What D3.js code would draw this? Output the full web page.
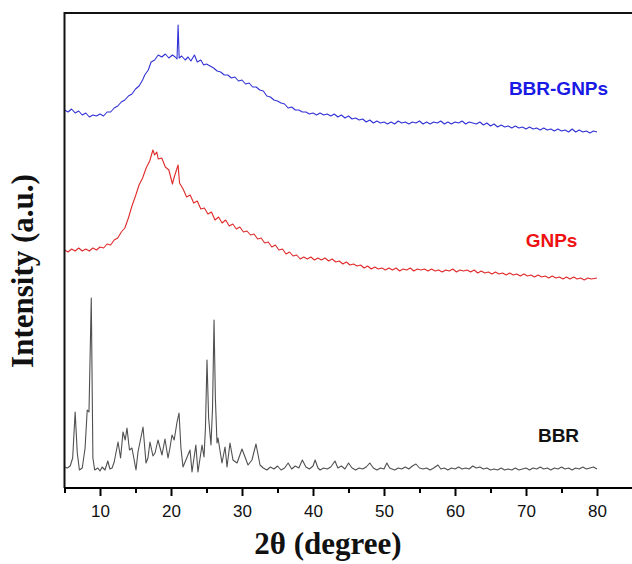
<!DOCTYPE html>
<html>
<head>
<meta charset="utf-8">
<style>
  body { margin: 0; background: #fff; }
</style>
</head>
<body>
<svg width="632" height="564"></svg>
<script src="https://d3js.org/d3.v7.min.js"></script>
<script>
  var svg = d3.select("svg"),
      margin = {top: 13, right: 0, bottom: 76, left: 64.5},
      width = 568,
      height = +svg.attr("height") - margin.top - margin.bottom,
      g = svg.append("g").attr("transform", "translate(" + margin.left + "," + margin.top + ")");

  // 2theta (degree) / intensity (a.u., curves stacked with offsets as in the figure)
  var bbrGnps = [
    [5,378],[5.5,376],[6,379],[6.5,375],[7,377],[7.5,373],[8,375],[8.5,371],[9,373],[9.5,372],
    [10,374],[10.5,372],[11,376],[11.5,376],[12,380],[12.5,382],[13,386],[13.5,388],[14,392],[14.5,394],
    [15,399],[15.5,402],[16,408],[16.3,413],[16.8,418],[17.2,426],[17.7,428],[18.2,433],[18.7,431],[19.2,434],
    [19.7,430],[20.2,433],[20.6,431],[20.85,429],[21,463],[21.15,430],[21.5,432],[22,428],[22.4,431],[22.8,427],
    [23.3,433],[23.7,426],[24.2,428],[24.6,423],[25,424],[25.5,422],[26,420],[26.5,417],[27,416],[27.5,413],
    [28,413],[28.5,410],[29,411],[29.5,407],[30,408],[30.5,404],[31,405],[31.5,401],[32,401],[32.5,398],
    [33,397],[33.5,392],[34,391],[34.5,388],[35,387],[35.5,385],[36,384],[36.5,380],[37,381],[37.5,378],
    [38,378],[38.5,376],[39,376],[39.5,374],[40,375],[40.5,373],[41,375],[41.5,373],[42,374],[42.5,372],
    [43,374],[43.5,371],[44,373],[44.5,370],[45,372],[45.5,369],[46,370],[46.5,368],[47,369],[47.5,366],
    [48,368],[48.5,365],[49,367],[49.5,365],[50,366],[50.5,364],[51,366],[51.5,364],[52,367],[52.5,365],
    [53,366],[53.5,364],[54,366],[54.5,365],[55,367],[55.5,364],[56,366],[56.5,364],[57,366],[57.5,365],
    [58,367],[58.5,364],[59,366],[59.5,364],[60,366],[60.5,365],[61,367],[61.5,364],[62,366],[62.5,365],
    [63,364],[63.5,366],[64,363],[64.5,365],[65,362],[65.5,364],[66,361],[66.5,363],[67,361],[67.5,362],
    [68,360],[68.5,362],[69,360],[69.5,361],[70,359],[70.5,361],[71,359],[71.5,360],[72,358],[72.5,360],
    [73,358],[73.5,359],[74,357],[74.5,359],[75,357],[75.5,358],[76,356],[76.5,359],[77,356],[77.5,358],
    [78,356],[78.5,357],[79,355],[79.5,357],[80,356]
  ];

  var gnps = [
    [5,238],[5.5,236],[6,239],[6.5,237],[7,240],[7.5,237],[8,239],[8.5,237],[9,240],[9.5,238],
    [10,241],[10.5,240],[11,244],[11.5,243],[12,248],[12.5,250],[13,256],[13.5,260],[14,270],[14.5,282],
    [15,292],[15.5,303],[16,310],[16.5,320],[17,327],[17.45,338],[17.7,333],[18,336],[18.2,329],[18.7,330],
    [19.2,321],[19.7,318],[20.2,304],[20.5,312],[21,323],[21.2,305],[21.7,299],[22.2,291],[22.7,293],[23.2,285],
    [23.7,287],[24.2,279],[24.7,280],[25.2,274],[25.7,276],[26.2,268],[26.7,271],[27.2,265],[27.7,268],[28.2,262],
    [28.7,264],[29.2,259],[29.7,261],[30.2,256],[30.7,257],[31.2,253],[31.7,254],[32.2,249],[32.7,250],[33.2,245],
    [33.7,246],[34.2,241],[34.7,243],[35.2,238],[35.7,239],[36.2,234],[36.7,236],[37.2,232],[37.7,233],[38.2,229],
    [38.7,231],[39.2,229],[39.7,231],[40.2,228],[40.7,230],[41.2,228],[41.7,230],[42.2,227],[42.7,229],[43.2,226],
    [43.7,227],[44.2,224],[44.7,226],[45.2,223],[45.7,224],[46.2,222],[46.7,223],[47.2,220],[47.7,222],[48.2,219],
    [48.7,221],[49.2,219],[49.7,220],[50.2,218],[50.7,220],[51.2,218],[51.7,220],[52.2,217],[52.7,219],[53.2,218],
    [53.7,220],[54.2,217],[54.7,219],[55.2,218],[55.7,219],[56.2,217],[56.7,219],[57.2,217],[57.7,218],[58.2,216],
    [58.7,218],[59.2,217],[59.7,219],[60.2,216],[60.7,218],[61.2,217],[61.7,218],[62.2,216],[62.7,218],[63.2,215],
    [63.7,217],[64.2,215],[64.7,216],[65.2,214],[65.7,216],[66.2,214],[66.7,215],[67.2,213],[67.7,215],[68.2,213],
    [68.7,214],[69.2,212],[69.7,214],[70.2,212],[70.7,213],[71.2,211],[71.7,213],[72.2,211],[72.7,212],[73.2,210],
    [73.7,212],[74.2,210],[74.7,211],[75.2,209],[75.7,211],[76.2,209],[76.7,211],[77.2,209],[77.7,210],[78.2,208],
    [78.7,210],[79.2,209],[80,210]
  ];

  var bbr = [
    [5,21],[5.4,20],[5.8,22],[6.15,30],[6.5,76],[6.8,35],[7.1,18],[7.5,20],[7.9,40],[8.2,78],
    [8.45,76],[8.77,190],[9,30],[9.25,18],[9.7,20],[10,17],[10.3,21],[10.7,18],[11.1,27],[11.4,19],
    [11.7,20],[12,26],[12.54,46],[12.9,30],[13.24,56],[13.55,48],[13.8,60],[14.15,38],[14.5,40],[15.07,18],
    [15.35,36],[15.75,50],[16.06,61],[16.48,25],[16.75,30],[17.04,46],[17.46,32],[17.75,35],[18.17,48],[18.73,33],
    [19.15,49],[19.58,30],[19.85,40],[20.14,53],[20.45,48],[20.85,66],[21.13,75],[21.4,40],[21.69,21],[22.1,28],
    [22.68,38],[22.96,16],[23.5,43],[23.8,16],[24.37,43],[24.65,31],[24.85,60],[25.07,128],[25.3,70],[25.63,43],
    [25.85,80],[26.06,168],[26.25,90],[26.48,45],[26.62,50],[27.18,25],[27.61,41],[27.89,21],[28.31,45],[28.73,28],
    [29.3,25],[30,39],[30.85,23],[31.4,28],[31.97,44],[32.54,23],[33,20],[33.5,18],[34,21],[34.5,19],
    [35,22],[35.5,18],[36,20],[36.5,25],[37,19],[37.5,22],[38,20],[38.5,28],[39,21],[39.5,19],
    [40,22],[40.3,28],[40.7,20],[41,18],[41.5,20],[42,19],[42.5,21],[43.1,27],[43.5,20],[44,22],
    [44.5,19],[45,25],[45.5,20],[46,18],[46.5,20],[47,19],[47.5,21],[48,25],[48.5,20],[49,18],
    [49.5,20],[50,19],[50.4,25],[50.8,20],[51.5,18],[52,20],[52.5,19],[53,21],[53.5,19],[54,22],
    [54.5,24],[55,20],[55.5,19],[56,20],[56.5,18],[57,20],[57.6,23],[58,19],[58.5,20],[59,18],
    [59.5,20],[60,19],[60.5,21],[61,19],[61.5,20],[62,19],[62.5,22],[63,20],[63.5,21],[64,19],
    [64.5,20],[65,18],[65.5,19],[66,18],[66.5,20],[67,18],[67.5,19],[68,18],[68.5,20],[69,18],
    [69.5,19],[70,20],[70.5,18],[71,20],[71.5,19],[72,21],[72.5,19],[73,20],[73.5,18],[74,20],
    [74.5,19],[75,21],[75.5,19],[76,20],[76.5,18],[77,20],[77.5,19],[78,21],[78.5,19],[79,20],
    [79.5,21],[80,19]
  ];

  var majorTicks = [10, 20, 30, 40, 50, 60, 70, 80];
  var minorTicks = [5, 15, 25, 35, 45, 55, 65, 75, 85];

  var x = d3.scaleLinear()
      .domain([5, 85])
      .range([0, width]);

  var y = d3.scaleLinear()
      .domain([0, 475])
      .range([height, 0]);

  var line = d3.line()
      .x(function(d) { return x(d[0]); })
      .y(function(d) { return y(d[1]); });

  var series = [
    {data: bbrGnps, color: "#3232d6"},
    {data: gnps, color: "#e02a2a"},
    {data: bbr, color: "#505050"}
  ];

  series.forEach(function(s) {
    g.append("path")
        .datum(s.data)
        .attr("fill", "none")
        .attr("stroke", s.color)
        .attr("stroke-width", 1.1)
        .attr("stroke-linejoin", "round")
        .attr("d", line);
  });

  // frame: top and left edges (right edge lies outside the picture)
  g.append("path")
      .attr("d", "M0," + height + "V0H" + (width + 5))
      .attr("fill", "none")
      .attr("stroke", "#111")
      .attr("stroke-width", 2);

  var xAxis = g.append("g")
      .attr("transform", "translate(0," + height + ")")
      .call(d3.axisBottom(x).tickValues(majorTicks).tickSize(8).tickPadding(9).tickFormat(d3.format("d")));
  xAxis.select(".domain").attr("stroke-width", 2).attr("d", "M0,0H" + (width + 5));
  xAxis.selectAll(".tick line").attr("stroke-width", 2);
  xAxis.selectAll("text")
      .attr("font-family", "Liberation Sans, Arial, sans-serif")
      .attr("font-size", 17)
      .attr("fill", "#111");

  var minor = g.append("g")
      .attr("transform", "translate(0," + height + ")")
      .call(d3.axisBottom(x).tickValues(minorTicks).tickSize(5).tickFormat(""));
  minor.select(".domain").remove();
  minor.selectAll(".tick line").attr("stroke-width", 2);

  // curve labels
  var labels = [
    {text: "BBR-GNPs", v: 393, color: "#1a1ae6"},
    {text: "GNPs", v: 241, color: "#ee1111"},
    {text: "BBR", v: 46, color: "#111"}
  ];
  g.selectAll(".curve-label")
      .data(labels)
    .enter().append("text")
      .attr("class", "curve-label")
      .attr("x", function(d, i) { return [494, 487, 494][i]; })
      .attr("y", function(d) { return y(d.v); })
      .attr("text-anchor", "middle")
      .attr("font-family", "Liberation Sans, Arial, sans-serif")
      .attr("font-weight", "bold")
      .attr("font-size", 19)
      .attr("fill", function(d) { return d.color; })
      .text(function(d) { return d.text; });

  svg.append("text")
      .attr("transform", "translate(33,271) rotate(-90)")
      .attr("text-anchor", "middle")
      .attr("font-family", "Liberation Serif, Times New Roman, serif")
      .attr("font-weight", "bold")
      .attr("font-size", 31)
      .attr("fill", "#111")
      .text("Intensity (a.u.)");

  svg.append("text")
      .attr("x", 328)
      .attr("y", 554)
      .attr("text-anchor", "middle")
      .attr("font-family", "Liberation Serif, Times New Roman, serif")
      .attr("font-weight", "bold")
      .attr("font-size", 31)
      .attr("fill", "#111")
      .text("2θ (degree)");
</script>
</body>
</html>
